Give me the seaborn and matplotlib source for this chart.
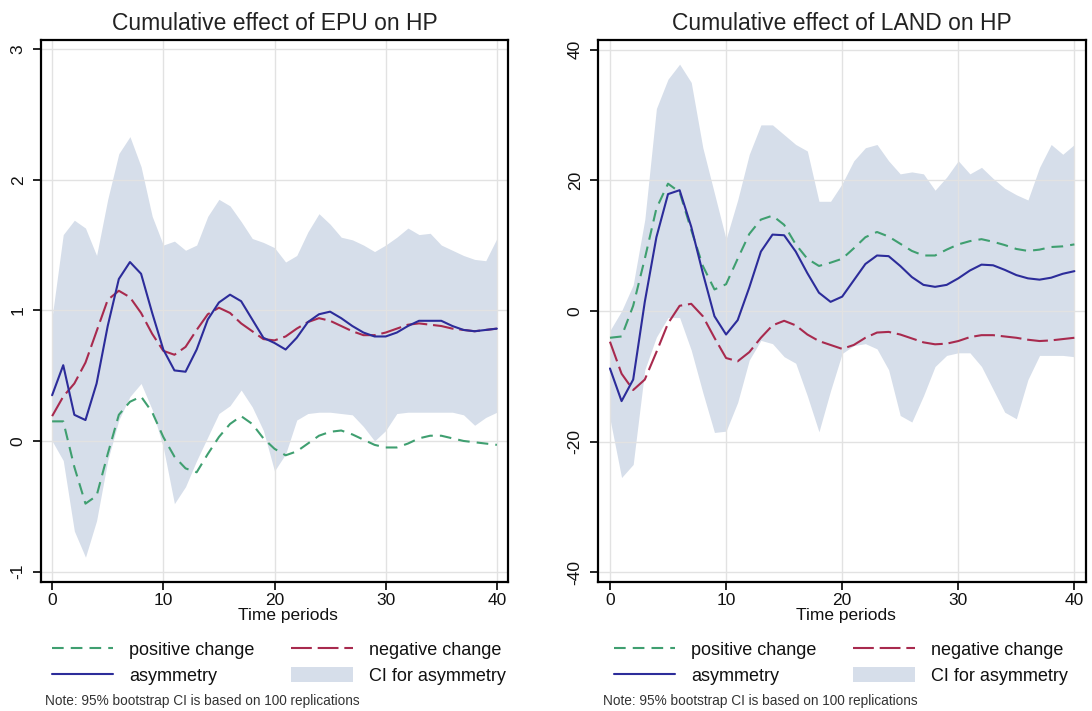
import matplotlib
matplotlib.use("Agg")
import matplotlib.pyplot as plt
import seaborn as sns

# ---------------------------------------------------------------- data
periods = list(range(41))

# Cumulative effect of EPU on HP
epu_positive = [0.15, 0.15, -0.20, -0.48, -0.42, -0.10, 0.20, 0.30, 0.34, 0.22,
                0.03, -0.12, -0.21, -0.24, -0.10, 0.03, 0.13, 0.19, 0.13, 0.02,
                -0.06, -0.11, -0.08, -0.02, 0.04, 0.07, 0.08, 0.05, 0.01, -0.03,
                -0.05, -0.05, -0.02, 0.02, 0.04, 0.04, 0.02, 0.00, -0.01, -0.02,
                -0.03]
epu_negative = [0.19, 0.34, 0.44, 0.60, 0.84, 1.08, 1.15, 1.10, 0.98, 0.82,
                0.69, 0.66, 0.72, 0.85, 0.97, 1.02, 0.98, 0.90, 0.84, 0.78,
                0.77, 0.80, 0.86, 0.91, 0.94, 0.92, 0.88, 0.84, 0.81, 0.81,
                0.83, 0.86, 0.89, 0.90, 0.89, 0.88, 0.86, 0.85, 0.84, 0.85,
                0.86]
epu_asymmetry = [0.35, 0.58, 0.20, 0.16, 0.44, 0.88, 1.24, 1.37, 1.28, 0.98,
                 0.70, 0.54, 0.53, 0.70, 0.93, 1.06, 1.12, 1.07, 0.93, 0.79,
                 0.75, 0.70, 0.79, 0.91, 0.97, 0.99, 0.94, 0.88, 0.83, 0.80,
                 0.80, 0.83, 0.88, 0.92, 0.92, 0.92, 0.88, 0.85, 0.84, 0.85,
                 0.86]
epu_ci_low = [0.00, -0.15, -0.69, -0.89, -0.61, -0.15, 0.16, 0.34, 0.44, 0.24,
              -0.05, -0.48, -0.35, -0.15, 0.03, 0.21, 0.27, 0.39, 0.26, 0.08,
              -0.23, -0.10, 0.16, 0.21, 0.22, 0.22, 0.21, 0.20, 0.11, 0.00,
              0.08, 0.21, 0.22, 0.22, 0.22, 0.22, 0.22, 0.20, 0.12, 0.18,
              0.22]
epu_ci_high = [0.95, 1.58, 1.69, 1.63, 1.42, 1.85, 2.20, 2.33, 2.10, 1.72,
               1.50, 1.53, 1.46, 1.50, 1.72, 1.85, 1.80, 1.68, 1.55, 1.52,
               1.48, 1.37, 1.42, 1.60, 1.74, 1.66, 1.56, 1.54, 1.50, 1.45,
               1.50, 1.56, 1.63, 1.58, 1.59, 1.50, 1.46, 1.42, 1.39, 1.38,
               1.55]

# Cumulative effect of LAND on HP
land_positive = [-4.1, -3.9, 0.8, 8.0, 15.7, 19.5, 18.2, 12.4, 6.9, 3.3,
                 4.1, 8.0, 11.8, 14.0, 14.6, 13.2, 10.2, 8.0, 6.9, 7.4,
                 8.0, 9.6, 11.3, 12.1, 11.4, 10.3, 9.2, 8.5, 8.5, 9.4,
                 10.2, 10.7, 11.0, 10.6, 10.1, 9.5, 9.2, 9.4, 9.8, 9.9,
                 10.2]
land_negative = [-4.7, -9.6, -12.1, -10.5, -6.3, -1.9, 0.8, 1.1, -0.8, -4.1,
                 -7.2, -7.7, -6.3, -4.1, -2.2, -1.5, -2.2, -3.6, -4.6, -5.2,
                 -5.8, -5.2, -4.1, -3.3, -3.2, -3.6, -4.2, -4.8, -5.1, -5.0,
                 -4.6, -4.0, -3.7, -3.7, -3.9, -4.1, -4.4, -4.6, -4.5, -4.3,
                 -4.1]
land_asymmetry = [-8.8, -13.8, -10.5, 1.4, 11.3, 17.9, 18.5, 12.9, 5.8, -0.8,
                  -3.6, -1.4, 3.6, 9.1, 11.7, 11.6, 9.1, 5.8, 2.8, 1.4,
                  2.2, 4.7, 7.2, 8.5, 8.4, 6.9, 5.2, 4.0, 3.7, 4.0,
                  5.0, 6.2, 7.1, 7.0, 6.3, 5.5, 5.0, 4.8, 5.1, 5.7,
                  6.1]
land_ci_low = [-16.5, -25.5, -23.5, -9.0, -4.0, -1.0, -1.0, -6.0, -12.5, -18.6,
               -18.4, -14.0, -7.5, -4.5, -5.0, -7.0, -8.0, -13.0, -18.5, -12.2,
               -6.5, -5.3, -5.0, -5.8, -9.0, -16.0, -17.0, -13.0, -8.5, -6.8,
               -6.4, -6.4, -8.5, -12.0, -15.5, -16.5, -10.5, -6.8, -6.8, -6.8,
               -7.0]
land_ci_high = [-3.0, 0.0, 4.0, 14.0, 31.0, 35.5, 37.8, 35.0, 25.0, 18.0,
                11.0, 17.0, 24.0, 28.5, 28.5, 27.0, 25.5, 24.5, 16.8, 16.8,
                19.5, 23.0, 25.0, 25.5, 23.0, 21.0, 21.3, 21.0, 18.5, 20.5,
                23.0, 21.0, 22.0, 20.3, 18.8, 17.8, 17.0, 22.0, 25.5, 24.0,
                25.5]

titles = ["Cumulative effect of EPU on HP", "Cumulative effect of LAND on HP"]
x_ticks = [0, 10, 20, 30, 40]
epu_y_ticks = [-1, 0, 1, 2, 3]
land_y_ticks = [-40, -20, 0, 20, 40]
legend_labels = ["positive change", "negative change", "asymmetry", "CI for asymmetry"]
x_label = "Time periods"
note_text = "Note: 95% bootstrap CI is based on 100 replications"

# ---------------------------------------------------------------- style
GREEN = "#3f9f70"
RED = "#a82a4e"
BLUE = "#2c2c9a"
BAND = "#d6deea"
GRID = "#e2e2e2"

sns.set_theme(style="white")
plt.rcParams["font.family"] = ["Liberation Sans", "DejaVu Sans"]
plt.rcParams["axes.unicode_minus"] = False

W, H = 1092, 711
fig = plt.figure(figsize=(W / 100, H / 100), dpi=100)
fig.patch.set_facecolor("white")


def px_axes(left, right, top, bottom):
    return fig.add_axes([left / W, 1 - bottom / H, (right - left) / W, (bottom - top) / H])


panels = [
    dict(box=(41, 508, 40, 582), title=titles[0],
         pos=epu_positive, neg=epu_negative, asym=epu_asymmetry,
         lo=epu_ci_low, hi=epu_ci_high, yticks=epu_y_ticks,
         ylim=(-1.08, 3.07), xlim=(-1.0, 41.0),
         legend_xy=(52, 641), note_x=45, xlabel_x=0.528),
    dict(box=(598, 1086, 40, 582), title=titles[1],
         pos=land_positive, neg=land_negative, asym=land_asymmetry,
         lo=land_ci_low, hi=land_ci_high, yticks=land_y_ticks,
         ylim=(-41.5, 41.5), xlim=(-1.03, 41.0),
         legend_xy=(614, 641), note_x=603, xlabel_x=0.508),
]

for p in panels:
    ax = px_axes(*p["box"])
    ax.set_facecolor("white")

    band = ax.fill_between(periods, p["lo"], p["hi"], color=BAND, lw=0, zorder=1)
    sns.lineplot(x=periods, y=p["pos"], ax=ax, color=GREEN, lw=1.5,
                 linestyle=(0, (5.6, 3.4)), zorder=3)
    sns.lineplot(x=periods, y=p["neg"], ax=ax, color=RED, lw=1.5,
                 linestyle=(0, (10, 2.8)), zorder=3)
    sns.lineplot(x=periods, y=p["asym"], ax=ax, color=BLUE, lw=1.5, zorder=4)
    line_pos, line_neg, line_asym = ax.get_lines()[:3]

    ax.set_xlim(*p["xlim"])
    ax.set_ylim(*p["ylim"])
    ax.set_xticks(x_ticks)
    ax.set_yticks(p["yticks"])
    ax.set_axisbelow("line")
    ax.grid(True, color=GRID, lw=1.0)

    for side in ["left", "right", "top", "bottom"]:
        ax.spines[side].set_visible(True)
        ax.spines[side].set_color("black")
        ax.spines[side].set_linewidth(1.6)

    ax.tick_params(axis="both", which="major", bottom=True, left=True,
                   direction="out", length=6, width=1.2, color="black",
                   labelsize=12.5, labelcolor="#111111")
    ax.tick_params(axis="x", pad=2)
    ax.tick_params(axis="y", labelrotation=90, pad=5)
    for lbl in ax.get_yticklabels():
        lbl.set_va("center")

    ax.set_title(p["title"], fontsize=16.5, color="#222222", pad=7)
    ax.set_xlabel(x_label, fontsize=12.5, color="#111111")
    ax.xaxis.set_label_coords(p["xlabel_x"], -0.0475)
    ax.set_ylabel("")

    lx, ly = p["legend_xy"]
    ax.legend(handles=[line_pos, line_asym, line_neg, band],
              labels=[legend_labels[0], legend_labels[2], legend_labels[1], legend_labels[3]],
              ncol=2, frameon=False, loc="upper left",
              bbox_to_anchor=(lx / W, 1 - ly / H), bbox_transform=fig.transFigure,
              fontsize=13, handlelength=3.38, handleheight=0.9,
              handletextpad=0.89, columnspacing=2.05, labelspacing=0.45,
              borderpad=0, borderaxespad=0, labelcolor="#111111")

    fig.text(p["note_x"] / W, 1 - 701 / H, note_text, fontsize=9.8,
             color="#333333", va="center", ha="left")

fig.savefig("out.png", dpi=100, facecolor="white")
